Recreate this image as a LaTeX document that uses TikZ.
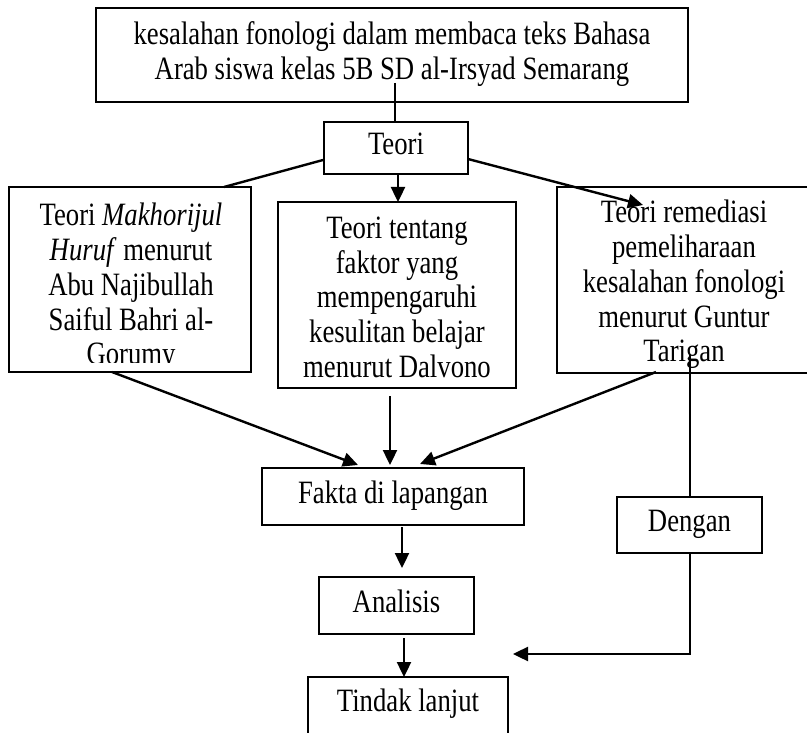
\documentclass[tikz,border=0pt]{standalone}
\usepackage{fontspec}
\usepackage{graphicx}
\setmainfont{Liberation Serif}
\usetikzlibrary{arrows.meta}
\newcommand{\vstxt}[1]{\scalebox{1}[1.22]{\fontsize{26.7}{28.5}\selectfont\begin{tabular}{@{}c@{}}#1\end{tabular}}}
\begin{document}
\begin{tikzpicture}[x=1pt,y=-1pt,
  box/.style={draw, line width=2pt, inner sep=0pt},
  txt/.style={align=center, inner sep=0pt},
  conn/.style={line width=2.4pt},
  arr/.style={line width=2.4pt, -{Triangle[length=15pt,width=14pt]}}]
\useasboundingbox (0,0) rectangle (807,733);
% boxes
\node[box, minimum width=592pt, minimum height=94pt] (top) at (392,55) {};
\node[txt] (toptxt) at (392,55) {\vstxt{kesalahan fonologi dalam membaca teks Bahasa\\Arab siswa kelas 5B SD al-Irsyad Semarang}};
\node[box, minimum width=144pt, minimum height=52pt] (teori) at (396,148) {};
\node[txt] at (396,148) {\vstxt{Teori}};
\node[box, minimum width=242pt, minimum height=185pt] (left) at (130,279.5) {};
\begin{scope}
\clip (9,187) rectangle (251,362);
\node[txt] (lefttxt) at (131,288.5) {\vstxt{Teori \textit{Makhorijul}\\\textit{Huruf} menurut\\Abu Najibullah\\Saiful Bahri al-\\Gorumy}};
\end{scope}
\node[box, minimum width=238pt, minimum height=186pt] (mid) at (397,295) {};
\node[txt] (midtxt) at (397,301) {\vstxt{Teori tentang\\faktor yang\\mempengaruhi\\kesulitan belajar\\menurut Dalvono}};
\node[box, minimum width=273pt, minimum height=186pt] (right) at (693.5,280) {};
\node[txt] (righttxt) at (684,285.5) {\vstxt{Teori remediasi\\pemeliharaan\\kesalahan fonologi\\menurut Guntur\\Tarigan}};
\node[box, minimum width=262pt, minimum height=57pt] (fakta) at (393,496.5) {};
\node[txt] at (393,496.5) {\vstxt{Fakta di lapangan}};
\node[box, minimum width=155pt, minimum height=57pt] (analisis) at (396.5,605.5) {};
\node[txt] at (396.5,605.5) {\vstxt{Analisis}};
\node[box, minimum width=200pt, minimum height=90pt] (tindak) at (408,722) {};
\node[txt] at (408,705) {\vstxt{Tindak lanjut}};
\node[box, minimum width=145pt, minimum height=56pt] (dengan) at (689.5,525) {};
\node[txt] at (689.5,525) {\vstxt{Dengan}};
% coordinates
\coordinate (c1) at (395,83);
\coordinate (c2) at (690,355);
\coordinate (c3) at (690,654);
\coordinate (c4) at (513,654);
% connectors
\draw[line width=1.2pt] (c1) -- (c1 |- teori.north);
\draw[conn] (teori.west |- 0,160) -- (224,187);
\draw[arr] (398,174) -- (398,202);
\draw[arr] (468,159) -- (643,205);
\draw[arr] (112,372) -- (358,465);
\draw[arr] (390,396) -- (390,465);
\draw[arr] (656,372) -- (420,464);
\draw[arr] (402,527) -- (402,568);
\draw[arr] (404,638) -- (404,677);
\draw[conn] (c2) -- (c2 |- dengan.north);
\draw[arr] (c2 |- dengan.south) -- (c3) -- (c4);
\end{tikzpicture}
\end{document}
